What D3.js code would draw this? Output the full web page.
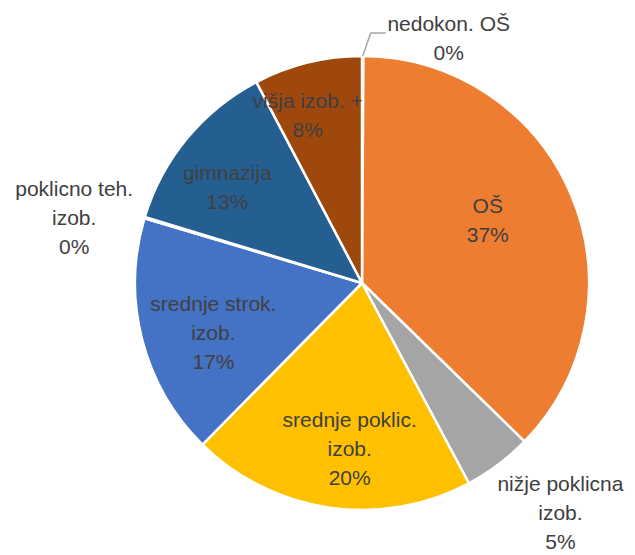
<!DOCTYPE html>
<html>
<head>
<meta charset="utf-8">
<script src="https://cdnjs.cloudflare.com/ajax/libs/d3/7.8.5/d3.min.js"></script>
<style>
  html, body { margin: 0; padding: 0; background: #fff; }
  .lbl { font-family: "Liberation Sans", Arial, sans-serif; font-size: 21px; fill: #404040; }
</style>
</head>
<body>
<div id="chart"></div>
<script>
// data (clockwise from 12 o'clock)
var categories = ['nedokon. OŠ', 'OŠ', 'nižje poklicna izob.', 'srednje poklic. izob.',
                  'srednje strok. izob.', 'poklicno teh. izob.', 'gimnazija', 'višja izob. +'];
var values = [0.1, 37.2, 4.9, 20.2, 17.2, 0.1, 12.6, 7.7];
var labelLines = [['nedokon. OŠ'], ['OŠ'], ['nižje poklicna', 'izob.'], ['srednje poklic.', 'izob.'],
                  ['srednje strok.', 'izob.'], ['poklicno teh.', 'izob.'], ['gimnazija'], ['višja izob. +']];
var colors = ['#5B9BD5', '#ED7D31', '#A5A5A5', '#FFC000', '#4472C4', '#70AD47', '#255E91', '#9E480E'];

// setup canvas parameter
var width = 635, height = 555, cx = 362, cy = 283, radius = 227, lineH = 29;
var nudge = -4 * Math.PI / 180;
// label distance from centre as a share of radius
var labelR = [null, 0.62, 1.335, 0.73, 0.69, 1.30, 0.73, 0.78];

var svg = d3.select('#chart')
    .append('svg')
    .attr('width', width + 'px')
    .attr('height', height + 'px');

var g = svg.append('g')
    .attr('transform', 'translate(' + cx + ',' + cy + ')');

var total = d3.sum(values);
var data = categories.map(function(c, i){
    return { name: c, value: values[i], lines: labelLines[i], color: colors[i], idx: i };
});

var pie = d3.pie()
    .sort(null)
    .value(function(d){ return d.value; });

var arc = d3.arc()
    .innerRadius(0)
    .outerRadius(radius);

var arcs = pie(data);

g.selectAll('.slice')
    .data(arcs)
    .enter()
    .append('path')
    .attr('class', 'slice')
    .attr('d', arc)
    .attr('fill', function(d){ return d.data.color; })
    .attr('stroke', '#fff')
    .attr('stroke-width', 2.5)
    .attr('stroke-linejoin', 'round');

function pct(v){ return Math.round(v / total * 100) + '%'; }

function drawBlock(lines, x, y){
    var t = g.append('text')
        .attr('class', 'lbl')
        .attr('text-anchor', 'middle');
    lines.forEach(function(s, i){
        t.append('tspan')
            .attr('x', x)
            .attr('y', y + (i - (lines.length - 1) / 2) * lineH)
            .attr('dy', '0.36em')
            .text(s);
    });
}

arcs.forEach(function(a){
    var i = a.data.idx;
    var mid = (a.startAngle + a.endAngle) / 2;
    var lines = a.data.lines.concat([pct(a.data.value)]);
    if (i === 0) {
        // leader line to label above the pie
        var p0 = d3.pointRadial(mid, radius);
        var p1 = [p0[0] + 8, p0[1] - 23];
        var p2 = [p1[0] + 15, p1[1]];
        g.append('polyline')
            .attr('points', [p0, p1, p2].map(function(p){ return p.join(','); }).join(' '))
            .attr('fill', 'none')
            .attr('stroke', '#A6A6A6')
            .attr('stroke-width', 1.5);
        drawBlock(lines, p2[0] + 63, p2[1] + 5);
        return;
    }
    var p = d3.pointRadial(mid + nudge, radius * labelR[i]);
    drawBlock(lines, p[0], p[1]);
});
</script>
</body>
</html>
